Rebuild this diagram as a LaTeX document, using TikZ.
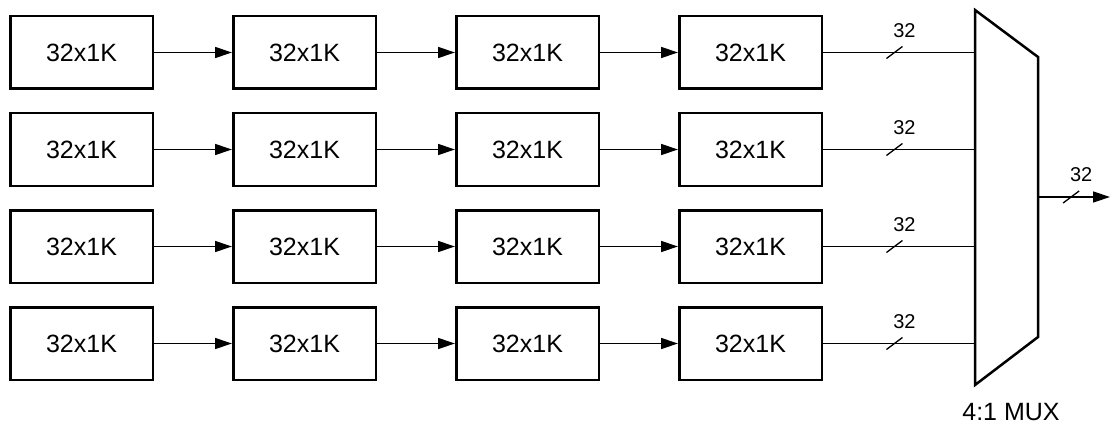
\documentclass[tikz,border=0pt]{standalone}
\usepackage{fontspec}
\setmainfont{Liberation Sans}
\usetikzlibrary{positioning,arrows.meta}

\tikzset{
  membox/.style={rectangle, draw, line width=2.5pt, minimum width=142.5pt, minimum height=72.5pt, font=\fontsize{25}{30}\selectfont},
  flow/.style={line width=1.3pt, -{Triangle[length=17pt,width=11pt]}},
  bus/.style={line width=1.3pt},
  buswidth/.pic={
    \draw[line width=1.3pt] (-8pt,-6pt) -- (8pt,6pt);
    \node[font=\fontsize{20}{24}\selectfont] at (10pt,22pt) {32};
  }
}

\begin{document}
\begin{tikzpicture}[x=1pt,y=-1pt]
        \useasboundingbox (0,0) rectangle (1110,425);

        % memory banks
        \node[membox] (a1) at (81.5,52.5) {32x1K};
        \node[membox] (a2) [right=78pt of a1] {32x1K};
        \node[membox] (a3) [right=78pt of a2] {32x1K};
        \node[membox] (a4) [right=78pt of a3] {32x1K};

        \node[membox] (b1) [below=22pt of a1] {32x1K};
        \node[membox] (b2) [right=78pt of b1] {32x1K};
        \node[membox] (b3) [right=78pt of b2] {32x1K};
        \node[membox] (b4) [right=78pt of b3] {32x1K};

        \node[membox] (c1) [below=22pt of b1] {32x1K};
        \node[membox] (c2) [right=78pt of c1] {32x1K};
        \node[membox] (c3) [right=78pt of c2] {32x1K};
        \node[membox] (c4) [right=78pt of c3] {32x1K};

        \node[membox] (d1) [below=22pt of c1] {32x1K};
        \node[membox] (d2) [right=78pt of d1] {32x1K};
        \node[membox] (d3) [right=78pt of d2] {32x1K};
        \node[membox] (d4) [right=78pt of d3] {32x1K};

        \draw[flow] (a1) -- (a2); \draw[flow] (a2) -- (a3); \draw[flow] (a3) -- (a4);
        \draw[flow] (b1) -- (b2); \draw[flow] (b2) -- (b3); \draw[flow] (b3) -- (b4);
        \draw[flow] (c1) -- (c2); \draw[flow] (c2) -- (c3); \draw[flow] (c3) -- (c4);
        \draw[flow] (d1) -- (d2); \draw[flow] (d2) -- (d3); \draw[flow] (d3) -- (d4);

        % mux
        \draw[line width=2.5pt] (975,10) coordinate (mux1) -- (1038,57) coordinate (mux2)
            -- (1038,337) coordinate (mux3) -- (975,385) coordinate (mux4) -- cycle;
        \node[font=\fontsize{25}{30}\selectfont] (muxlabel) at (1011,412) {4:1 MUX};

        % buses
        \draw[bus] (a4) -- coordinate[pos=0.47] (sa) (a4.east -| mux1);
        \draw[bus] (b4) -- coordinate[pos=0.47] (sb) (b4.east -| mux1);
        \draw[bus] (c4) -- coordinate[pos=0.47] (sc) (c4.east -| mux1);
        \draw[bus] (d4) -- coordinate[pos=0.47] (sd) (d4.east -| mux1);
        \pic at (sa) {buswidth};
        \pic at (sb) {buswidth};
        \pic at (sc) {buswidth};
        \pic at (sd) {buswidth};

        \coordinate (muxout) at (1038,197);
        \coordinate (out) at (1110,197);
        \draw[flow] (muxout) -- coordinate[pos=0.46] (sout) (out);
        \pic at (sout) {buswidth};

\end{tikzpicture}
\end{document}
